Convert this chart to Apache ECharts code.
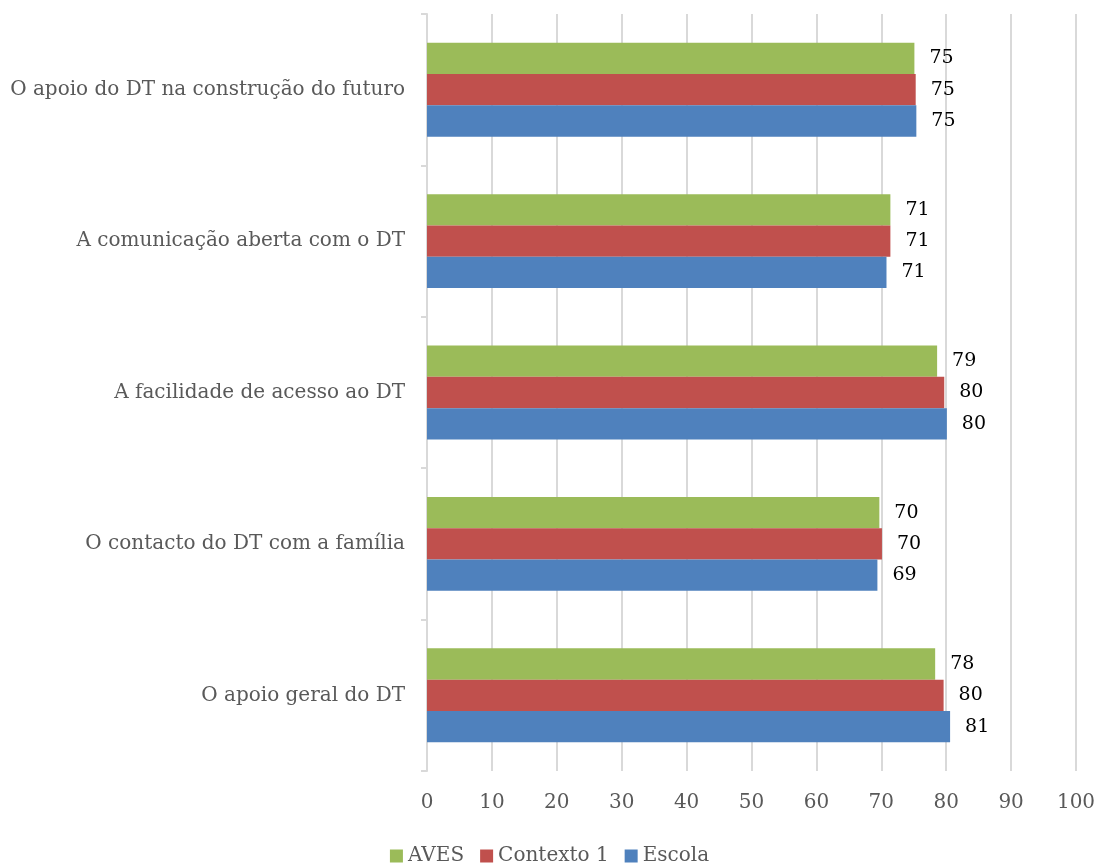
<!DOCTYPE html>
<html><head><meta charset="utf-8">
<script src="https://cdn.jsdelivr.net/npm/echarts@6/dist/echarts.min.js"></script>
<style>html,body{margin:0;padding:0;background:#fff}#c{width:1099px;height:863px}</style>
</head><body><div id="c"></div>
<script>
const categories = ['O apoio geral do DT', 'O contacto do DT com a família', 'A facilidade de acesso ao DT', 'A comunicação aberta com o DT', 'O apoio do DT na construção do futuro'];
const aves = [78.3, 69.7, 78.6, 71.4, 75.1];
const contexto1 = [79.6, 70.1, 79.7, 71.4, 75.3];
const escola = [80.6, 69.4, 80.1, 70.8, 75.4];
const seriesNames = ['AVES', 'Contexto 1', 'Escola'];
const colors = ['#9BBB59', '#C0504D', '#4F81BD'];
const FONT = 'DejaVu Serif';

const chart = echarts.init(document.getElementById('c'));
const mk = (name, data, color) => ({
  name, type: 'bar', data, barGap: '0%', barCategoryGap: '38%',
  itemStyle: { color },
  label: { show: true, position: 'right', distance: 15, color: '#000', fontFamily: FONT, fontSize: 19,
    formatter: p => Math.round(p.value) }
});
chart.setOption({
  animation: false,
  textStyle: { fontFamily: FONT },
  grid: { left: 427, right: 23, top: 14, bottom: 92, containLabel: false },
  legend: { top: 841, left: 'center', itemWidth: 13, itemHeight: 13, itemGap: 16, icon: 'rect',
    textStyle: { fontFamily: FONT, fontSize: 20, color: '#595959' }, data: seriesNames },
  xAxis: { type: 'value', min: 0, max: 100, interval: 10,
    axisLine: { show: false }, axisTick: { show: false },
    splitLine: { lineStyle: { color: '#D9D9D9', width: 2 } },
    axisLabel: { fontFamily: FONT, fontSize: 20, color: '#595959', margin: 22 } },
  yAxis: { type: 'category', data: categories,
    axisLine: { lineStyle: { color: '#D9D9D9', width: 2 } },
    axisTick: { show: true, length: 6, lineStyle: { color: '#D9D9D9', width: 2 } },
    axisLabel: { fontFamily: FONT, fontSize: 20, color: '#595959', margin: 22 } },
  series: [mk(seriesNames[0], aves, colors[0]), mk(seriesNames[1], contexto1, colors[1]), mk(seriesNames[2], escola, colors[2])]
});
</script></body></html>
